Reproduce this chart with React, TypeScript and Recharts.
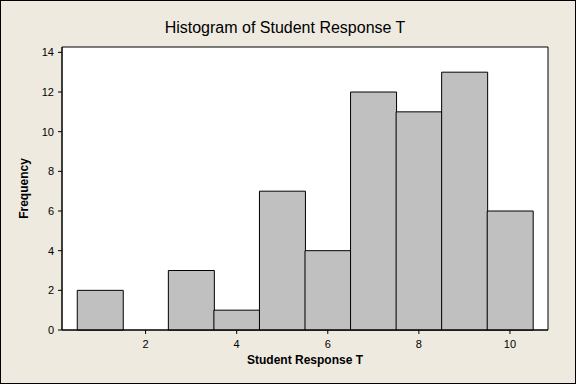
import { BarChart, Bar, XAxis, YAxis, CartesianGrid, ReferenceArea } from "recharts";

// Student Response T histogram (bin width 1)
const binCenters = [1, 2, 3, 4, 5, 6, 7, 8, 9, 10];
const frequencies = [2, 0, 3, 1, 7, 4, 12, 11, 13, 6];
const xTicks = [2, 4, 6, 8, 10];
const yTicks = [0, 2, 4, 6, 8, 10, 12, 14];
const xDomain = [0.165, 10.835];
const yDomain = [0, 14.27];

const data = binCenters.map((x, i) => ({ x, freq: frequencies[i] }));

const tickFont = { fill: "#000", fontSize: 11, fontFamily: "Liberation Sans, Arial, sans-serif" };
const labelFont = { fill: "#000", fontSize: 12, fontWeight: "bold", fontFamily: "Liberation Sans, Arial, sans-serif" };

const App = () => {
  return (
    <div
      style={{
        position: "absolute",
        top: 0,
        left: 0,
        width: 576,
        height: 384,
        background: "#EEEAE0",
      }}
    >
      <div
        style={{
          position: "absolute",
          top: 19,
          left: 0,
          width: 570,
          textAlign: "center",
          fontFamily: "Liberation Sans, Arial, sans-serif",
          fontSize: 16,
          lineHeight: "18px",
          color: "#000",
        }}
      >
        Histogram of Student Response T
      </div>
      <BarChart
        width={576}
        height={384}
        data={data}
        barCategoryGap={0}
        margin={{ top: 47, right: 28, bottom: 0, left: 0 }}
      >
        <CartesianGrid fill="#fff" horizontal={false} vertical={false} />
        <XAxis
          dataKey="x"
          type="number"
          domain={xDomain}
          ticks={xTicks}
          height={54}
          stroke="#000"
          tickSize={4}
          tickMargin={6}
          tick={tickFont}
          label={{ value: "Student Response T", position: "insideBottom", offset: 20, style: labelFont }}
        />
        <YAxis
          type="number"
          domain={yDomain}
          ticks={yTicks}
          width={62}
          stroke="#000"
          tickSize={4}
          tickMargin={4}
          tick={tickFont}
          label={{
            value: "Frequency",
            angle: -90,
            position: "insideLeft",
            offset: 24,
            style: { ...labelFont, textAnchor: "middle" },
          }}
        />
        <Bar dataKey="freq" fill="#C0C0C0" stroke="#000" strokeWidth={1} isAnimationActive={false} />
        <ReferenceArea
          x1={xDomain[0]}
          x2={xDomain[1]}
          y1={yDomain[0]}
          y2={yDomain[1]}
          fill="none"
          stroke="#000"
          strokeWidth={1}
          ifOverflow="visible"
        />
      </BarChart>
      <div
        style={{
          position: "absolute",
          inset: 0,
          border: "1px solid #000",
          boxSizing: "border-box",
          pointerEvents: "none",
        }}
      />
    </div>
  );
};

export default App;
